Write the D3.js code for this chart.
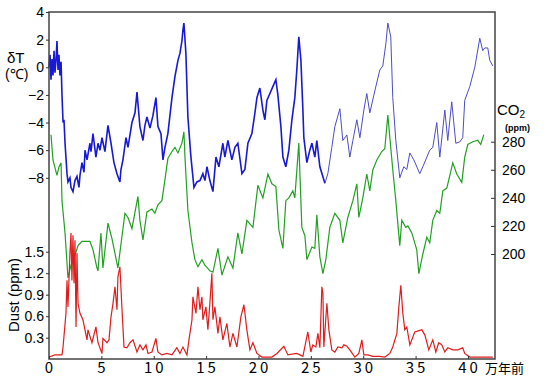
<!DOCTYPE html>
<html>
<head>
<meta charset="utf-8">
<script src="https://cdn.jsdelivr.net/npm/d3@7"></script>
<style>
  body { margin:0; background:#fff; }
  svg text { font-family: Arial, "Liberation Sans", sans-serif; fill:#000; }
</style>
</head>
<body>
<div class="chart-container"></div>
<script>
// 目盛り
const xTicks = [0, 5, 10, 15, 20, 25, 30, 35, 40];
const tempTicks = [-8, -6, -4, -2, 0, 2, 4];
const dustTicks = [0.3, 0.6, 0.9, 1.2, 1.5];
const co2Ticks = [200, 220, 240, 260, 280];

// 気温偏差 δT (万年前, ℃)
const tempData = [
  [0.00,0.0],[0.10,0.9],[0.19,-0.9],[0.29,0.6],[0.38,-0.6],[0.48,1.2],[0.57,-0.4],[0.67,0.5],[0.76,1.9],[0.86,-0.2],
  [0.95,0.9],[1.05,-0.6],[1.15,0.4],[1.24,-2.0],[1.34,-4.0],[1.43,-3.8],[1.53,-5.5],[1.72,-7.7],[1.81,-8.3],[2.00,-8.0],
  [2.10,-8.7],[2.29,-9.0],[2.48,-8.2],[2.67,-7.9],[2.86,-8.7],[2.96,-7.8],[3.15,-6.9],[3.34,-7.6],[3.44,-6.0],[3.63,-6.7],
  [3.91,-5.5],[4.01,-6.1],[4.20,-4.8],[4.48,-6.5],[4.68,-5.5],[4.87,-6.0],[5.06,-5.1],[5.34,-6.1],[5.63,-4.2],[5.92,-5.5],
  [6.20,-6.9],[6.49,-7.7],[6.77,-8.3],[6.87,-7.4],[7.06,-6.7],[7.35,-5.1],[7.54,-5.8],[7.92,-4.0],[8.21,-3.3],[8.40,-1.8],
  [8.68,-4.3],[8.97,-5.3],[9.16,-4.2],[9.35,-3.6],[9.64,-4.4],[9.92,-3.5],[10.21,-2.2],[10.40,-4.3],[10.69,-4.8],[10.88,-6.7],
  [11.07,-5.8],[11.35,-4.8],[11.74,-2.2],[12.02,-0.7],[12.31,0.5],[12.50,1.0],[12.69,1.9],[12.79,2.7],[12.88,3.2],[13.07,1.0],
  [13.26,-3.6],[13.55,-6.5],[13.84,-8.7],[14.12,-8.3],[14.41,-8.2],[14.69,-7.7],[14.89,-8.2],[15.08,-7.2],[15.36,-8.2],[15.65,-9.0],
  [15.94,-6.5],[16.22,-7.2],[16.60,-5.5],[16.79,-6.5],[17.08,-5.3],[17.46,-6.7],[17.75,-5.8],[18.03,-5.5],[18.42,-7.7],[18.70,-7.4],
  [18.99,-5.5],[19.37,-4.8],[19.66,-3.3],[19.85,-2.2],[20.13,-1.5],[20.42,-3.1],[20.61,-3.8],[20.80,-2.4],[21.09,-1.9],[21.37,-1.4],
  [21.66,-0.9],[21.85,-2.0],[22.14,-4.3],[22.33,-6.5],[22.61,-7.2],[22.90,-6.0],[23.19,-3.8],[23.47,-2.2],[23.66,-0.2],[23.85,2.2],
  [24.05,0.5],[24.24,-3.1],[24.33,-5.1],[24.62,-6.9],[24.90,-6.0],[25.10,-5.5],[25.38,-6.5],[25.57,-5.3],[25.86,-7.2],[26.34,-8.4],
  [26.62,-7.7],[27.00,-5.8],[27.29,-4.3],[27.77,-3.0],[28.05,-5.3],[28.44,-4.9],[28.72,-6.5],[29.01,-5.3],[29.39,-3.8],[29.68,-5.1],
  [30.06,-3.1],[30.34,-1.9],[30.63,-3.3],[31.11,-1.7],[31.58,-0.2],[31.87,0.1],[32.16,1.7],[32.35,3.2],[32.63,2.2],[32.82,-2.2],
  [33.11,-5.3],[33.49,-8.0],[33.87,-7.2],[34.16,-7.4],[34.45,-6.2],[34.83,-6.7],[35.40,-7.7],[35.69,-7.2],[36.35,-6.0],[36.64,-5.8],
  [37.02,-4.0],[37.31,-6.5],[37.79,-3.1],[38.07,-5.3],[38.45,-2.5],[38.84,-5.5],[39.22,-5.4],[39.50,-5.1],[39.69,-2.4],[40.17,-1.4],
  [40.65,0.0],[41.13,2.1],[41.41,1.2],[41.60,1.4],[41.89,1.4],[42.08,0.5],[42.37,0.1]
];

// CO2 (万年前, ppm)
const co2Data = [
  [0.19,285],[0.38,267],[0.76,256],[0.95,262],[1.15,265],[1.24,238],[1.53,215],[1.81,183],[2.10,192],[2.48,199],
  [2.77,206],[3.15,209],[3.91,209],[4.20,203],[4.58,190],[4.68,188],[4.96,215],[5.15,190],[5.63,222],[6.01,211],
  [6.58,190],[7.25,229],[7.54,226],[7.92,218],[8.49,241],[8.68,224],[8.97,210],[9.35,230],[9.83,232],[10.11,229],
  [10.40,235],[10.78,238],[11.07,253],[11.35,268],[11.74,273],[12.02,276],[12.31,272],[12.69,279],[12.88,287],[12.98,269],
  [13.26,231],[13.65,208],[13.93,196],[14.22,191],[14.60,196],[14.89,192],[15.36,188],[15.65,187],[16.13,204],[16.51,185],
  [17.08,198],[17.56,190],[18.03,215],[18.42,200],[18.89,224],[19.47,219],[19.94,249],[20.42,240],[20.90,257],[21.28,250],
  [21.66,248],[21.95,217],[22.33,204],[22.61,238],[22.90,240],[23.28,245],[23.47,240],[23.85,279],[24.14,219],[24.43,213],
  [24.62,196],[25.10,205],[25.38,204],[25.57,228],[25.86,198],[26.15,186],[26.43,196],[26.81,219],[27.29,229],[27.77,224],
  [28.05,208],[28.53,226],[29.01,238],[29.39,250],[29.58,226],[29.96,240],[30.34,257],[30.63,245],[30.92,260],[31.30,267],
  [31.77,273],[32.06,275],[32.35,299],[32.54,283],[32.82,260],[33.11,238],[33.49,206],[33.68,224],[34.06,219],[34.26,220],
  [34.64,215],[35.11,203],[35.31,186],[35.69,200],[36.07,212],[36.35,208],[36.64,224],[37.02,231],[37.31,229],[37.60,245],
  [37.98,247],[38.55,265],[38.93,257],[39.41,251],[39.69,269],[39.98,278],[40.46,280],[40.94,281],[41.22,278],[41.51,285]
];

// 粉塵 Dust (万年前, ppm)
const dustData = [
  [0.00,0.03],[0.57,0.06],[1.24,0.06],[1.34,0.17],[1.62,0.64],[1.72,1.10],[1.81,0.73],[2.00,1.48],[2.10,1.76],[2.19,1.10],
  [2.29,1.73],[2.39,1.06],[2.48,1.66],[2.58,0.45],[2.67,1.48],[2.77,0.78],[2.96,0.64],[3.24,0.55],[3.63,0.27],[3.72,0.41],
  [4.10,0.23],[4.48,0.45],[4.68,0.23],[5.06,0.08],[5.15,0.29],[5.53,0.23],[5.73,0.27],[5.92,0.59],[6.11,0.78],[6.30,1.01],
  [6.49,0.69],[6.58,1.15],[6.77,1.29],[6.97,0.69],[7.16,0.17],[7.44,0.16],[7.73,0.23],[8.02,0.27],[8.40,0.10],[8.68,0.20],
  [8.97,0.13],[9.26,0.20],[9.45,0.08],[9.83,0.10],[10.21,0.29],[10.40,0.10],[10.78,0.06],[11.26,0.08],[11.74,0.06],[12.21,0.16],
  [12.50,0.08],[12.79,0.17],[13.17,0.06],[13.36,0.27],[13.65,0.55],[13.74,0.87],[14.03,0.64],[14.22,1.01],[14.41,0.69],[14.60,0.87],
  [14.69,0.55],[14.98,0.73],[15.17,0.41],[15.36,0.78],[15.55,1.20],[15.65,0.55],[15.84,0.73],[16.13,0.36],[16.32,0.59],[16.60,0.27],
  [16.98,0.50],[17.27,0.17],[17.56,0.36],[17.94,0.17],[18.32,0.59],[18.61,0.76],[18.89,0.41],[19.18,0.13],[19.47,0.23],[19.85,0.08],
  [20.32,0.03],[21.28,0.03],[21.76,0.08],[22.42,0.18],[22.81,0.06],[23.66,0.08],[24.24,0.04],[24.71,0.38],[25.00,0.10],[25.19,0.20],
  [25.48,0.17],[25.67,0.36],[25.86,0.16],[26.05,1.01],[26.15,0.92],[26.24,0.17],[26.53,0.78],[26.72,0.41],[27.00,0.13],[27.29,0.10],
  [27.58,0.17],[27.96,0.16],[28.15,0.20],[28.44,0.18],[28.72,0.13],[29.20,0.03],[29.58,0.08],[29.87,0.27],[30.06,0.06],[30.44,0.06],
  [30.92,0.04],[31.58,0.04],[32.06,0.03],[32.54,0.08],[32.82,0.17],[33.21,0.36],[33.40,0.73],[33.59,1.03],[33.78,0.64],[33.97,0.41],
  [34.16,0.45],[34.45,0.20],[34.92,0.38],[35.59,0.41],[35.88,0.34],[36.26,0.13],[36.64,0.27],[36.93,0.10],[37.21,0.23],[37.50,0.20],
  [37.79,0.10],[38.07,0.16],[38.55,0.13],[39.03,0.13],[39.50,0.16],[39.69,0.08],[40.17,0.03],[41.41,0.03],[42.37,0.03]
];

const svg_width = 550;
const svg_height = 379;
const box = {left:49, right:495, top:12, bottom:359};

const svg = d3.select('.chart-container').append('svg')
  .attr('width', svg_width).attr('height', svg_height);

// スケール
const xScale = d3.scaleLinear().domain([0, 42.58]).range([box.left, box.right]);
const yTemp = d3.scaleLinear().domain([-8, 4]).range([177.8, box.top]);
const yCO2 = d3.scaleLinear().domain([200, 280]).range([254, 141.7]);
const yDust = d3.scaleLinear().domain([0, 1.5]).range([359.2, 251.7]);

// 折れ線
const line = yScale => d3.line().x(d => xScale(d[0])).y(d => yScale(d[1]));

svg.append('path').datum(co2Data)
  .attr('d', line(yCO2)).attr('fill','none')
  .attr('stroke','#22a022').attr('stroke-width',1.2);

svg.append('path').datum(dustData)
  .attr('d', line(yDust)).attr('fill','none')
  .attr('stroke','#e01c1c').attr('stroke-width',1.2);

// 前半は密なデータなので太め
svg.append('path').datum(tempData.filter(d => d[0] <= 26.4))
  .attr('d', line(yTemp)).attr('fill','none')
  .attr('stroke','#1818d8').attr('stroke-width',1.6);
svg.append('path').datum(tempData.filter(d => d[0] >= 26.34))
  .attr('d', line(yTemp)).attr('fill','none')
  .attr('stroke','#4c4cc8').attr('stroke-width',1);

// 枠
svg.append('rect')
  .attr('x', box.left).attr('y', box.top)
  .attr('width', box.right - box.left).attr('height', box.bottom - box.top)
  .attr('fill','none').attr('stroke','#444').attr('stroke-width',1.5);

// 軸
const xAxis = d3.axisTop(xScale).tickValues(xTicks).tickSize(3).tickFormat('');
svg.append('g').attr('transform',`translate(0,${box.bottom})`).call(xAxis)
  .call(g => g.select('.domain').remove());
svg.selectAll('.xlab').data(xTicks).enter().append('text')
  .attr('class','xlab')
  .attr('x', d => xScale(d)).attr('y', 373)
  .attr('text-anchor','middle')
  .style('font-family','"Noto Sans CJK JP", sans-serif')
  .style('font-size','15px').style('letter-spacing','3px')
  .attr('dx', 1.5)
  .text(d => d);
svg.append('text').attr('x', 485).attr('y', 373)
  .style('font-family','"Noto Sans CJK JP", sans-serif')
  .style('font-size','13px').text('万年前');

const tempAxis = d3.axisLeft(yTemp).tickValues(tempTicks).tickSize(3).tickPadding(2);
svg.append('g').attr('transform',`translate(${box.left},0)`).call(tempAxis)
  .call(g => g.select('.domain').remove())
  .selectAll('text').style('font-size','14px').style('font-family','Arial, "Liberation Sans"');

const dustAxis = d3.axisLeft(yDust).tickValues(dustTicks).tickSize(3).tickPadding(2);
svg.append('g').attr('transform',`translate(${box.left},0)`).call(dustAxis)
  .call(g => g.select('.domain').remove())
  .selectAll('text').style('font-size','14px').style('font-family','Arial, "Liberation Sans"');

const co2Axis = d3.axisRight(yCO2).tickValues(co2Ticks).tickSize(-4).tickPadding(7);
svg.append('g').attr('transform',`translate(${box.right},0)`).call(co2Axis)
  .call(g => g.select('.domain').remove())
  .selectAll('text').style('font-size','14px').style('font-family','Arial, "Liberation Sans"');

svg.selectAll('.tick line').attr('stroke','#333');

// 軸ラベル
svg.append('text').attr('x', 7).attr('y', 63).style('font-size','15px').text('δT');
svg.append('text').attr('x', 5).attr('y', 79).style('font-size','14px').text('(℃)');

svg.append('text')
  .attr('transform','translate(19,295) rotate(-90)')
  .attr('text-anchor','middle').style('font-size','15px')
  .text('Dust (ppm)');

const co2Label = svg.append('text').attr('x', 497).attr('y', 115).style('font-size','15px');
co2Label.append('tspan').text('CO');
co2Label.append('tspan').attr('dy', 3).style('font-size','10px').text('2');
svg.append('text').attr('x', 505).attr('y', 131)
  .style('font-size','9px').style('font-weight','bold').text('(ppm)');
</script>
</body>
</html>
